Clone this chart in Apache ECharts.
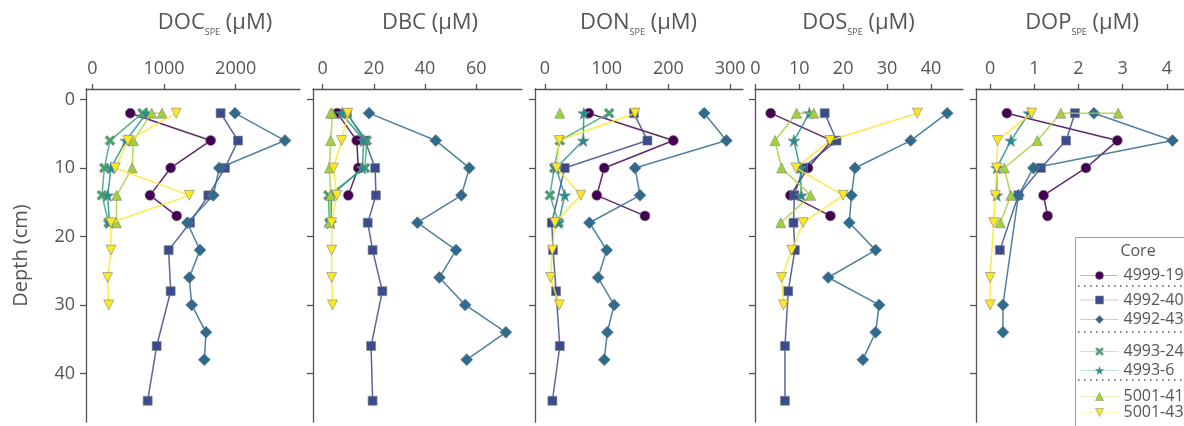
<!DOCTYPE html>
<html><head><meta charset="utf-8">
<script src="https://cdn.jsdelivr.net/npm/echarts@6/dist/echarts.min.js"></script>
<style>html,body{margin:0;padding:0;background:#fff}#c{width:1184px;height:426px}</style>
</head><body><div id="c"></div>
<script>
// ---------------- DATA ----------------
const cores = ['4999-19', '4992-40', '4992-43', '4993-24', '4993-6', '5001-41', '5001-43'];

// sampling depths (cm) for each core, in the order of `cores`
const depth_4999_19 = [2, 6, 10, 14, 17];
const depth_4992_40 = [2, 6, 10, 14, 18, 22, 28, 36, 44];
const depth_4992_43 = [2, 6, 10, 14, 18, 22, 26, 30, 34, 38];
const depth_4993_24 = [2, 6, 10, 14, 18];
const depth_4993_6  = [2, 6, 10, 14, 18];
const depth_5001_41 = [2, 2, 6, 10, 14, 18];
const depth_5001_43 = [2, 6, 10, 14, 18, 22, 26, 30];
const coreDepths = [depth_4999_19, depth_4992_40, depth_4992_43, depth_4993_24, depth_4993_6, depth_5001_41, depth_5001_43];

// values per panel (one row per core, aligned with the depth arrays; null = not measured)
const DOC_values = [
  [530, 1651, 1093, 805, 1177],
  [1790, 2032, 1851, 1618, 1363, 1065, 1093, 898, 772],
  [1990, 2688, 1771, 1688, 1325, 1502, 1353, 1386, 1586, 1562],
  [700, 247, 168, 135, 226],
  [758, 470, 261, 215, 237],
  [972, 828, 572, 555, 340, 335],
  [1170, 496, 321, 1353, 258, 261, 214, 228]
];
const DBC_values = [
  [5.7, 13.3, 13.9, 10.0, null],
  [9.4, 16.5, 20.5, 20.8, 17.6, 19.5, 23.3, 18.9, 19.5],
  [18.1, 44.2, 57.3, 54.2, 37.0, 52.1, 45.6, 55.7, 71.6, 56.3],
  [9.4, 17.2, 16.5, 2.2, 2.6],
  [7.4, 16.0, 15.5, 3.5, 3.2],
  [3.8, 3.1, 3.1, 2.6, 3.1, 2.6],
  [9.8, 7.4, 4.2, 5.5, 3.5, 3.5, 3.5, 3.8]
];
const DON_values = [
  [71, 208, 96, 84, 162],
  [144, 166, 32, null, 11, 13, 18, 24, 12],
  [258, 294, 146, 154, 72, 100, 86, 112, 101, 96],
  [104, 24, 15, 8, 22],
  [63, 62, 18, 32, 22],
  [24, null, null, null, null, null],
  [146, 23, 19, 58, 16, 12, 9, 23]
];
const DOS_values = [
  [3.5, 17.4, 12.0, 8.0, 17.1],
  [15.8, 18.5, 10.9, 8.9, 8.7, 9.0, 7.5, 6.75, 6.75],
  [43.7, 35.4, 22.7, 21.9, 21.4, 27.4, 16.6, 28.2, 27.4, 24.5],
  [null, null, null, null, null],
  [12.3, 8.8, 10.2, 10.5, null],
  [13.3, 9.4, 4.5, 6.0, 12.6, 5.8],
  [36.9, 17.0, 9.25, 20.0, 10.9, 8.3, 6.0, 6.4]
];
const DOP_values = [
  [0.38, 2.88, 2.17, 1.21, 1.30],
  [1.92, 1.72, 1.15, 0.64, null, 0.22, null, null, null],
  [2.35, 4.13, 0.98, 0.64, null, null, null, 0.29, 0.29, null],
  [null, null, null, null, null],
  [0.88, 0.47, 0.15, 0.15, null],
  [2.90, 1.60, 1.07, 0.32, 0.47, 0.23],
  [0.94, 0.17, 0.15, 0.12, 0.08, null, 0.0, 0.0]
];
const panelValues = [DOC_values, DBC_values, DON_values, DOS_values, DOP_values];

const panelNames = ['DOC', 'DBC', 'DON', 'DOS', 'DOP'];
const panelSubs = ['SPE', '', 'SPE', 'SPE', 'SPE'];
const xTicks_DOC = [0, 1000, 2000];
const xTicks_DBC = [0, 20, 40, 60];
const xTicks_DON = [0, 100, 200, 300];
const xTicks_DOS = [0, 10, 20, 30, 40];
const xTicks_DOP = [0, 1, 2, 3, 4];
const panelTicks = [xTicks_DOC, xTicks_DBC, xTicks_DON, xTicks_DOS, xTicks_DOP];
const depthTicks = [0, 10, 20, 30, 40];

// ---------------- STYLE / LAYOUT ----------------
const coreColors = ['#440154', '#3b4c8c', '#2e6b8e', '#3aa86e', '#20908c', '#a3d13a', '#fde725'];
const X_PATH = 'path://M2,0 L5,3 L8,0 L10,2 L7,5 L10,8 L8,10 L5,7 L2,10 L0,8 L3,5 L0,2 Z';
const STAR_PATH = 'path://M50,0 L61,35 L98,35 L68,57 L79,91 L50,70 L21,91 L32,57 L2,35 L39,35 Z';
const TRI_UP = 'path://M5,0 L10,9 L0,9 Z';
const TRI_DOWN = 'path://M0,0 L10,0 L5,9 Z';
const coreSymbols = ['circle', 'rect', 'diamond', X_PATH, STAR_PATH, TRI_UP, TRI_DOWN];
const coreSymbolSizes = [10, 9, 12, 10, 12, 10, 10];

const gridLeft = [86, 313, 535, 755, 976];
const gridWidth = [214, 209, 208, 208, 208];
const xMin = [-88, -3.8, -16.2, -0.07, -0.32];
const xMax = [2897, 77.9, 320.9, 47.3, 4.39];
const titleCenters = [215, 430, 638.5, 858.5, 1082];

const FONT = '"Open Sans", "Noto Sans", sans-serif';
const AX = '#555555';

const grids = [], xAxes = [], yAxes = [], series = [];
for (let p = 0; p < 5; p++) {
  grids.push({ left: gridLeft[p], top: 89, width: gridWidth[p], height: 333, outerBoundsMode: 'none', containLabel: false });
  xAxes.push({
    type: 'value', gridIndex: p, position: 'top', min: xMin[p], max: xMax[p],
    axisLine: { show: true, onZero: false, lineStyle: { color: AX, width: 1.3 } },
    axisTick: { show: true, length: 5, customValues: panelTicks[p], lineStyle: { color: AX, width: 1.3 } },
    axisLabel: { show: true, customValues: panelTicks[p], formatter: v => String(v), color: AX, fontSize: 18, fontFamily: FONT, margin: 11 },
    splitLine: { show: false }
  });
  yAxes.push({
    type: 'value', gridIndex: p, inverse: true, min: -1.53, max: 47.1,
    name: p === 0 ? 'Depth (cm)' : '', nameLocation: 'middle', nameGap: 55, nameRotate: 90,
    nameTextStyle: { color: AX, fontSize: 20, fontFamily: FONT },
    axisLine: { show: true, onZero: false, lineStyle: { color: AX, width: 1.3 } },
    axisTick: { show: true, length: 6, customValues: depthTicks, lineStyle: { color: AX, width: 1.3 } },
    axisLabel: { show: p === 0, customValues: depthTicks, formatter: v => String(v), color: AX, fontSize: 18, fontFamily: FONT, margin: 11 },
    splitLine: { show: false }
  });
  const vals = panelValues[p];
  for (let c = 0; c < cores.length; c++) {
    const data = coreDepths[c].map((d, i) => [vals[c][i], d]).filter(pt => pt[0] !== null && pt[0] !== undefined);
    if (!data.length) continue;
    series.push({
      type: 'line', name: cores[c], xAxisIndex: p, yAxisIndex: p, data,
      symbol: coreSymbols[c], symbolSize: coreSymbolSizes[c], showAllSymbol: true,
      color: coreColors[c],
      lineStyle: { color: coreColors[c], width: 1.5, opacity: 0.85 },
      itemStyle: { color: coreColors[c], borderColor: '#7f7f7f', borderWidth: 0.6, opacity: 1 },
      emphasis: { disabled: true }, animation: false, clip: false, z: 2 + c
    });
  }
}

// legends, one per entry so that grouped spacing can be matched
const legendCenters = [277, 301.5, 321, 353, 372, 398, 414];
const legends = cores.map((name, i) => ({
  data: [name], orient: 'vertical', left: 1080, top: legendCenters[i] - 9.5, padding: 0,
  itemWidth: 38, itemHeight: 10, itemGap: 0, z: 40,
  textStyle: { color: AX, fontSize: 16, fontFamily: FONT },
  lineStyle: { width: 1, opacity: 0.3 },
  itemStyle: { borderColor: '#7f7f7f', borderWidth: 0.5 },
  selectedMode: false
}));

const graphics = [];
for (let p = 0; p < 5; p++) {
  graphics.push({
    type: 'text', x: titleCenters[p], y: 23,
    style: {
      text: panelSubs[p] ? '{a|' + panelNames[p] + '}{s|' + panelSubs[p] + '}{a| (μM)}' : '{a|' + panelNames[p] + ' (μM)}',
      align: 'center', verticalAlign: 'middle',
      rich: {
        a: { fontSize: 22, fontFamily: FONT, fill: AX, lineHeight: 28 },
        s: { fontSize: 9, fontFamily: FONT, fill: AX, lineHeight: 14, verticalAlign: 'bottom' }
      }
    }
  });
}
graphics.push({ type: 'rect', shape: { x: 1075.5, y: 237.5, width: 130, height: 200 }, style: { fill: '#fff', stroke: '#a0a0a0', lineWidth: 1 }, z: 20 });
graphics.push({ type: 'text', x: 1138, y: 251, style: { text: 'Core', align: 'center', verticalAlign: 'middle', fontSize: 16, fontFamily: FONT, fill: AX }, z: 41 });
[286, 332, 380].forEach(y => graphics.push({ type: 'line', shape: { x1: 1078, y1: y, x2: 1184, y2: y }, style: { stroke: '#555', lineWidth: 1.5, lineDash: [1.5, 4.5] }, z: 41 }));

const chart = echarts.init(document.getElementById('c'), null, { renderer: 'canvas' });
chart.setOption({
  backgroundColor: '#ffffff', animation: false,
  textStyle: { fontFamily: FONT },
  grid: grids, xAxis: xAxes, yAxis: yAxes, series,
  legend: legends, graphic: { elements: graphics }
});
</script></body></html>
